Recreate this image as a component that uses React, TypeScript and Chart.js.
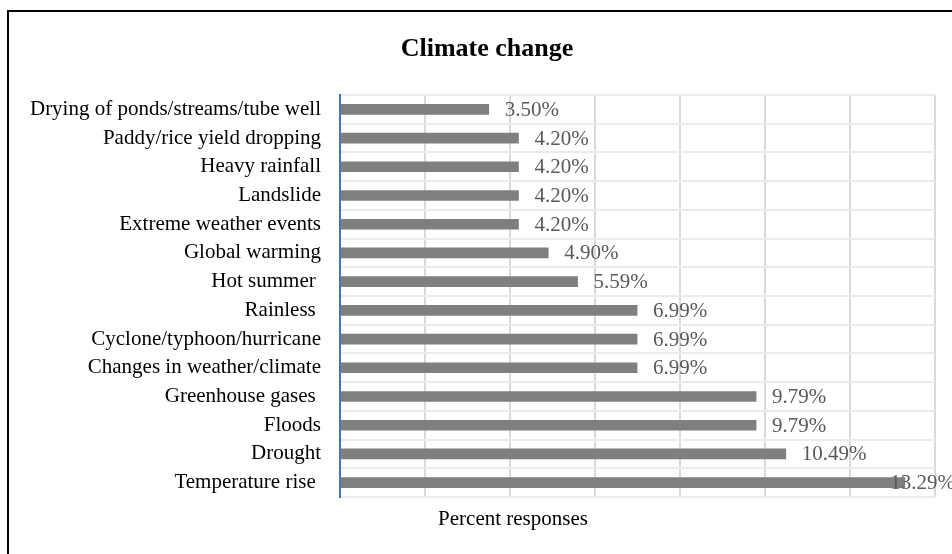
import React, { useEffect, useRef } from "react";
import { Chart, registerables } from "chart.js";

Chart.register(...registerables);

const categories: string[] = [
  "Drying of ponds/streams/tube well",
  "Paddy/rice yield dropping",
  "Heavy rainfall",
  "Landslide",
  "Extreme weather events",
  "Global warming",
  "Hot summer ",
  "Rainless ",
  "Cyclone/typhoon/hurricane",
  "Changes in weather/climate",
  "Greenhouse gases ",
  "Floods",
  "Drought",
  "Temperature rise ",
];

const percentResponses: number[] = [
  3.5, 4.2, 4.2, 4.2, 4.2, 4.9, 5.59, 6.99, 6.99, 6.99, 9.79, 9.79, 10.49, 13.29,
];

const xMin = 0;
const xMax = 14;
const xStep = 2;

const chartTitle = "Climate change";
const axisTitle = "Percent responses";

const FONT = '"Liberation Serif", "Times New Roman", serif';

const framePlugin = {
  id: "frame",
  beforeDraw(chart: any) {
    const { ctx, width, height } = chart;
    ctx.save();
    ctx.fillStyle = "#ffffff";
    ctx.fillRect(0, 0, width, height);
    ctx.fillStyle = "#000000";
    ctx.fillRect(7, 10, 2, height - 10);
    ctx.fillRect(7, 10, width - 7, 2);
    ctx.restore();
  },
};

const labelPlugin = {
  id: "valueLabels",
  afterDatasetsDraw(chart: any) {
    const { ctx, chartArea } = chart;
    const meta = chart.getDatasetMeta(0);
    ctx.save();
    ctx.font = `21px ${FONT}`;
    ctx.fillStyle = "#595959";
    ctx.textBaseline = "middle";
    ctx.textAlign = "left";
    meta.data.forEach((bar: any, i: number) => {
      const text = percentResponses[i].toFixed(2) + "%";
      const w = ctx.measureText(text).width;
      const x = Math.min(bar.x + 16, chartArea.right + 20 - w);
      ctx.fillText(text, x, bar.y + 1);
    });
    ctx.fillStyle = "#000000";
    ctx.textAlign = "center";
    ctx.fillText(axisTitle, chartArea.left + 173, chartArea.bottom + 22);
    ctx.restore();
  },
};

export default function App() {
  const canvasRef = useRef<HTMLCanvasElement | null>(null);

  useEffect(() => {
    if (!canvasRef.current) return;
    const chart = new Chart(canvasRef.current, {
      type: "bar",
      data: {
        labels: categories,
        datasets: [
          {
            label: axisTitle,
            data: percentResponses,
            backgroundColor: "#7f7f7f",
            borderWidth: 0,
            barThickness: 10,
          },
        ],
      },
      options: {
        indexAxis: "y",
        animation: false,
        responsive: false,
        maintainAspectRatio: false,
        layout: { padding: { left: 20, right: 0, top: 0, bottom: 0 } },
        plugins: {
          legend: { display: false },
          tooltip: { enabled: false },
          title: {
            display: true,
            text: chartTitle,
            color: "#000000",
            font: { family: FONT, size: 26, weight: "bold" },
            padding: { top: 34, bottom: 29.8 },
          },
        },
        scales: {
          x: {
            type: "linear",
            min: xMin,
            max: xMax,
            ticks: { display: false, stepSize: xStep },
            grid: {
              color: (c: any) =>
                c.tick && c.tick.value === xMin ? "rgba(0,0,0,0)" : "#d9d9d9",
              lineWidth: 2,
              drawTicks: false,
            },
            border: { display: false },
            afterFit: (s: any) => {
              s.height = 57;
            },
          },
          y: {
            type: "category",
            ticks: {
              color: "#000000",
              font: { family: FONT, size: 21 },
              padding: 19,
              autoSkip: false,
            },
            grid: {
              color: "#ebebeb",
              lineWidth: 2,
              drawTicks: false,
              offset: true,
            },
            border: { color: "#4472c4", width: 2 },
            afterFit: (s: any) => {
              s.width = 320;
            },
          },
          yRight: {
            type: "category",
            position: "right",
            ticks: { display: false },
            grid: { display: false, drawTicks: false },
            border: { display: false },
            afterFit: (s: any) => {
              s.width = 19;
            },
          },
        },
      },
      plugins: [framePlugin, labelPlugin],
    });
    return () => chart.destroy();
  }, []);

  return (
    <div
      style={{
        position: "fixed",
        left: 0,
        top: 0,
        width: 952,
        height: 554,
        overflow: "hidden",
      }}
    >
      <canvas ref={canvasRef} width={954} height={554} />
    </div>
  );
}
